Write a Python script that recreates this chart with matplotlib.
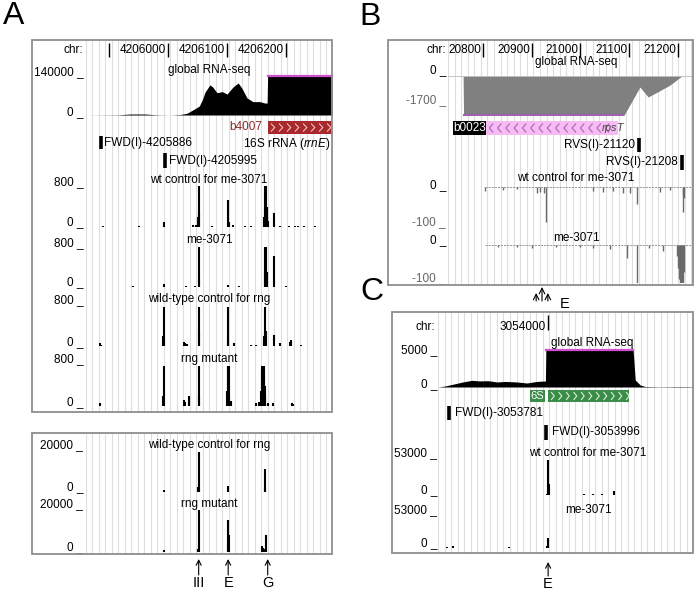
import matplotlib
matplotlib.use('Agg')
import matplotlib.pyplot as plt
from matplotlib.patches import Rectangle
import numpy as np

plt.rcParams['font.family'] = ['Liberation Sans', 'DejaVu Sans']
plt.rcParams['mathtext.fontset'] = 'custom'
plt.rcParams['mathtext.it'] = 'Liberation Sans:italic'
plt.rcParams['mathtext.rm'] = 'Liberation Sans'

# ---------------- DATA ----------------
# Panel A (chr 4205861-4206278)
A_chr_ticks = [4205900, 4206000, 4206100, 4206200]
A_chr_labels = ['', '4206000', '4206100', '4206200']
A_global_pos = [4205861, 4205915, 4205936, 4205961, 4205981, 4206003, 4206020, 4206032, 4206042,
                4206053, 4206058, 4206063, 4206071, 4206076, 4206083, 4206092, 4206100, 4206110,
                4206119, 4206125, 4206134, 4206144, 4206156, 4206164, 4206168, 4206169, 4206278]
A_global_val = [0, 800, 3500, 3500, 800, 0, 1500, 6100, 18000, 32000, 54000, 83000, 108000, 100000,
                80000, 84000, 75000, 100000, 115000, 97000, 61000, 48000, 48000, 43000, 43000,
                150000, 150000]
A_probes = [4205886, 4205995]
A_probe_labels = ['FWD(I)-4205886', 'FWD(I)-4205995']
A_gene = (4206169, 4206278)

A_wt_me_pos = [4205890, 4205920, 4205950, 4205993, 4206010, 4206043, 4206047, 4206051, 4206052, 4206053,
               4206075, 4206102, 4206103, 4206110, 4206130, 4206140, 4206163, 4206164, 4206165,
               4206166, 4206167, 4206168, 4206169, 4206180, 4206190, 4206205, 4206215, 4206220, 4206230, 4206250]
A_wt_me_val = [10, 8, 10, 90, 8, 30, 40, 200, 850, 300, 12, 520, 100, 30, 10, 15, 200, 350, 900,
               900, 400, 250, 120, 280, 15, 12, 20, 25, 15, 10]
A_me_pos = [4205900, 4205940, 4205993, 4206030, 4206045, 4206052, 4206053, 4206080, 4206102, 4206120,
            4206164, 4206165, 4206166, 4206167, 4206180, 4206200, 4206240]
A_me_val = [8, 10, 50, 15, 20, 850, 150, 8, 30, 10, 300, 900, 850, 300, 620, 10, 8]
A_wtr_pos = [4205885, 4205886, 4205920, 4205960, 4205992, 4205993, 4205994, 4206027, 4206029, 4206033,
             4206052, 4206053, 4206101, 4206102, 4206112, 4206140, 4206150, 4206162, 4206163, 4206164,
             4206165, 4206166, 4206180, 4206190, 4206207, 4206209, 4206225, 4206250]
A_wtr_val = [60, 30, 10, 10, 200, 850, 150, 80, 60, 50, 850, 300, 150, 850, 60, 30, 30, 100, 200, 300,
             850, 300, 220, 60, 90, 120, 20, 10]
A_rng_pos = [4205885, 4205920, 4205960, 4205992, 4205993, 4206027, 4206029, 4206036, 4206052, 4206053,
             4206100, 4206101, 4206102, 4206103, 4206104, 4206106, 4206150, 4206155, 4206158, 4206159,
             4206160, 4206161, 4206162, 4206163, 4206164, 4206165, 4206170, 4206178, 4206210, 4206212]
A_rng_val = [60, 10, 10, 200, 850, 120, 90, 200, 850, 200, 300, 850, 850, 850, 200, 100, 60, 80, 300,
             850, 700, 850, 850, 600, 400, 200, 60, 60, 70, 50]
A2_wt_pos = [4205993, 4206051, 4206052, 4206053, 4206102, 4206164, 4206165]
A2_wt_val = [900, 2500, 18500, 1500, 3000, 1800, 10500]
A2_rng_pos = [4205993, 4206051, 4206052, 4206101, 4206102, 4206103, 4206160, 4206161, 4206165, 4206166]
A2_rng_val = [800, 1500, 19500, 4000, 15000, 8000, 2800, 2000, 1500, 8000]
A_sites = [4206052, 4206102, 4206169]
A_site_labels = ['III', 'E', 'G']

# Panel B (chr 20728-21231, minus strand)
B_chr_ticks = [20800, 20900, 21000, 21100, 21200]
B_global_pos = [20759, 20760, 21087, 21122, 21139, 21163, 21184, 21208]
B_global_val = [0, -1800, -1800, -480, -915, -640, -392, 0]
B_gene = (20812, 21078)
B_probes = [21120, 21208]
B_probe_labels = ['RVS(I)-21120', 'RVS(I)-21208']
B_wt_pos = [20804, 20841, 20870, 20911, 20917, 20925, 20929, 21026, 21046, 21067, 21087, 21102,
            21116, 21163, 21184, 21210, 21211, 21212]
B_wt_val = [-10, -8, -5, -15, -12, -15, -92, -10, -12, -10, -15, -15, -45, -12, -8, -20, -65, -30]
B_me_pos = [20830, 20870, 20900, 20950, 21000, 21026, 21060, 21096, 21116, 21140, 21170,
            21198, 21200, 21202, 21204, 21206, 21208, 21210, 21212]
B_me_val = [-5, -5, -8, -6, -5, -8, -10, -35, -110, -8, -15, -30, -60, -90, -110, -110, -110, -100, -70]
B_sites = [20909, 20921, 20933]

# Panel C (chr 3053757-3054322)
C_chr_ticks = [3054000]
C_global_pos = [3053757, 3053773, 3053812, 3053832, 3053850, 3053868, 3053888, 3053906, 3053932,
                3053954, 3053976, 3053990, 3053995, 3053996, 3054189, 3054194, 3054205, 3054216,
                3054249, 3054294, 3054322]
C_global_val = [0, 135, 680, 900, 820, 850, 680, 750, 680, 540, 750, 800, 810, 5300, 5300, 950, 270,
                70, 30, 60, 40]
C_gene = (3054001, 3054180)
C_probes = [3053781, 3053996]
C_probe_labels = ['FWD(I)-3053781', 'FWD(I)-3053996']
C_wt_pos = [3053998, 3054000, 3054001, 3054002, 3054080, 3054100, 3054120, 3054147]
C_wt_val = [2000, 5000, 48000, 15000, 1000, 800, 1500, 5000]
C_me_pos = [3053777, 3053790, 3053915, 3053998, 3054000, 3054001]
C_me_val = [2000, 2500, 800, 3500, 3000, 15000]
C_sites = [3054001]

# ---------------- LAYOUT ----------------
W, H = 696, 591
fig = plt.figure(figsize=(W / 100, H / 100), dpi=100)
bg = fig.add_axes([0, 0, 1, 1])
bg.set_xlim(0, W); bg.set_ylim(H, 0); bg.axis('off')
bg.set_zorder(10); bg.patch.set_alpha(0)

FS = 8.5
GRID = '#dedede'
FRAME = '#8e8e8e'


def px_axes(x0, y0, x1, y1, xlim, ylim, z=2):
    ax = fig.add_axes([x0 / W, 1 - y1 / H, (x1 - x0) / W, (y1 - y0) / H])
    ax.set_xlim(*xlim); ax.set_ylim(*ylim)
    ax.axis('off'); ax.patch.set_alpha(0); ax.set_zorder(z)
    return ax


def T(x, y, s, ha='right', size=FS, color='black', **kw):
    bg.text(x, y, s, ha=ha, va='center', fontsize=size, color=color, **kw)


def frame(x0, y0, x1, y1):
    bg.add_patch(Rectangle((x0, y0), x1 - x0, y1 - y0, fill=False, ec=FRAME, lw=1.3, zorder=5))


def grid(fa, g0, g1, step, y0, y1):
    fa.vlines(np.arange(g0, g1, step), y0, y1, color=GRID, lw=0.8, zorder=0)


def chevrons(fa, g0, g1, y0, y1, step, w, direction, color, lw=0.8):
    xs = np.arange(g0 + step * 0.4, g1 - w * 0.5, step)
    ym = (y0 + y1) / 2
    for x in xs:
        if direction > 0:
            fa.plot([x, x + w, x], [y0, ym, y1], color=color, lw=lw, zorder=4, solid_capstyle='butt')
        else:
            fa.plot([x + w, x, x + w], [y0, ym, y1], color=color, lw=lw, zorder=4, solid_capstyle='butt')


def peaks(ax, pos, val, color='black', lw=1.5):
    ax.vlines(pos, 0, val, color=color, lw=lw)


def baseline(ax, g0, g1, color='#333333'):
    ax.plot([g0, g1], [0, 0], color=color, lw=0.6, dashes=(2.5, 1.2))


def up_arrow(fa, x, ytip, ytail, ms=9):
    fa.annotate('', xy=(x, ytip), xytext=(x, ytail),
                arrowprops=dict(arrowstyle='->', lw=0.8, color='black', mutation_scale=ms,
                                shrinkA=0, shrinkB=0), annotation_clip=False)


# ================= PANEL A =================
gA0, gA1 = 4205861, 4206278
xA0, xA1 = 86, 332
T(14, 16, 'A', ha='center', size=23)
frame(32, 40, 332, 412)
frame(32, 433, 332, 554)
faA = px_axes(xA0, 0, xA1, H, (gA0, gA1), (H, 0), z=1)
grid(faA, gA0, gA1, 11, 40, 412)
grid(faA, gA0, gA1, 11, 433, 554)
T(83, 50, 'chr:')
faA.vlines(A_chr_ticks, 43, 57, color='black', lw=1.0)
for t, lab in zip(A_chr_ticks, A_chr_labels):
    if lab:
        faA.text(t - 3.4, 50, lab, ha='right', va='center', fontsize=FS)

# global RNA-seq
T(209, 70, 'global RNA-seq', ha='center')
T(83, 72, '140000 _'); T(83, 112, '0 _')
axg = px_axes(xA0, 76, xA1, 115, (gA0, gA1), (0, 140000))
axg.fill_between(A_global_pos, 0, A_global_val, color='black', lw=0)
axg.plot([gA0, gA1], [0, 0], color='#444444', lw=0.6)
axg.plot([A_gene[0], gA1], [140000, 140000], color='#d050d0', lw=1.6, clip_on=False)

# gene
faA.add_patch(Rectangle((A_gene[0], 121), A_gene[1] - A_gene[0], 13, color='#a8282c', lw=0, zorder=3))
chevrons(faA, A_gene[0], A_gene[1], 123.5, 131.5, 13.6, 6.5, 1, '#f0c0c0')
faA.text(A_gene[0] - 10, 127, 'b4007', ha='right', va='center', fontsize=FS, color='#8b2a2a')
T(330, 144, r'16S rRNA ($\it{rrnE}$)')
probe_y = [(136, 149, 143), (153, 168, 161)]
for p, lab, (ya, yb, yt) in zip(A_probes, A_probe_labels, probe_y):
    faA.vlines(p, ya, yb, color='black', lw=2.6)
    faA.text(p + 6, yt, lab, ha='left', va='center', fontsize=FS)

# 800-scale tracks
tracksA = [
    ('wt control for me-3071', 186, 227, 180, 182, 222, A_wt_me_pos, A_wt_me_val),
    ('me-3071', 247, 287, 240, 243, 282, A_me_pos, A_me_val),
    ('wild-type control for rng', 307, 346, 299, 300, 342, A_wtr_pos, A_wtr_val),
    ('rng mutant', 366, 406, 359, 359, 402, A_rng_pos, A_rng_val),
]
for title, yt, yb, ytit, ylab_top, ylab_0, pos, val in tracksA:
    ax = px_axes(xA0, yt, xA1, yb, (gA0, gA1), (0, 800))
    baseline(ax, gA0 + 6, gA1)
    peaks(ax, pos, val)
    T(209, ytit, title, ha='center')
    T(83, ylab_top, '800 _'); T(83, ylab_0, '0 _')

tracksA2 = [
    ('wild-type control for rng', 449, 492, 445, 445, 487, A2_wt_pos, A2_wt_val),
    ('rng mutant', 509, 552, 504, 504, 547, A2_rng_pos, A2_rng_val),
]
for title, yt, yb, ytit, ylab_top, ylab_0, pos, val in tracksA2:
    ax = px_axes(xA0, yt, xA1, yb, (gA0, gA1), (0, 20000))
    baseline(ax, gA0 + 6, gA1)
    peaks(ax, pos, val)
    T(209, ytit, title, ha='center')
    T(83, ylab_top, '20000 _'); T(83, ylab_0, '0 _')

for s, lab in zip(A_sites, A_site_labels):
    up_arrow(faA, s, 559, 575)
    faA.text(s, 583, lab, ha='center', va='center', fontsize=10.5)

# ================= PANEL B =================
gB0, gB1 = 20728, 21231
xB0, xB1 = 448, 693
T(370, 17, 'B', ha='center', size=23)
frame(388, 40, 693, 285)
faB = px_axes(xB0, 0, xB1, H, (gB0, gB1), (H, 0), z=1)
grid(faB, gB0, gB1, 13.5, 40, 285)
T(446, 50, 'chr:')
faB.vlines(B_chr_ticks, 43, 57, color='black', lw=1.0)
for t in B_chr_ticks:
    faB.text(t - 4, 50, str(t), ha='right', va='center', fontsize=FS)

T(576, 62, 'global RNA-seq', ha='center')
T(446, 70, '0 _'); T(446, 100, '-1700 _', color='#666666')
axb = px_axes(xB0, 76, xB1, 115, (gB0, gB1), (-1700, 0))
axb.fill_between(B_global_pos, 0, B_global_val, color='#808080', lw=0)
axb.plot([gB0, gB1], [0, 0], color='#bbbbbb', lw=0.6)
axb.plot([B_global_pos[1], B_global_pos[2]], [-1700, -1700], color='#a060b0', lw=1.5, clip_on=False)

# gene rpsT
faB.add_patch(Rectangle((B_gene[0] - 8, 121), B_gene[1] - B_gene[0] + 8, 14, color='#f5bdf2', lw=0, zorder=3))
chevrons(faB, B_gene[0] - 6, B_gene[1] - 14, 123.5, 132.5, 17, 8, -1, '#b25ec0')
bx0 = gB0 + (453 - xB0) / 0.487
faB.add_patch(Rectangle((bx0, 121), (486 - 453) / 0.487, 14, color='black', lw=0, zorder=3))
faB.text(bx0 + (486 - 453) / 0.487 / 2, 128, 'b0023', ha='center', va='center', fontsize=FS,
         color='white', zorder=5)
T(601, 128, r'$\it{rpsT}$', ha='left', size=7.8, color='#444444', zorder=6)
probe_y = [(138, 152, 145), (155, 170, 162)]
for p, lab, (ya, yb, yt) in zip(B_probes, B_probe_labels, probe_y):
    faB.vlines(p, ya, yb, color='black', lw=2.6)
    faB.text(p - 8, yt, lab, ha='right', va='center', fontsize=FS)

tracksB = [
    ('wt control for me-3071', 187, 225, 178, 185, 222, B_wt_pos, B_wt_val),
    ('me-3071', 245, 283, 238, 240, 278, B_me_pos, B_me_val),
]
for title, yt, yb, ytit, ylab_top, ylab_0, pos, val in tracksB:
    ax = px_axes(xB0, yt, xB1, yb, (gB0, gB1), (-100, 0))
    baseline(ax, gB0 + 75, gB1, color='#888888')
    peaks(ax, pos, val, color='#6a6a6a', lw=1.0)
    T(576, ytit, title, ha='center')
    T(446, ylab_top, '0 _'); T(446, ylab_0, '-100 _', color='#666666')

for s, tip in zip(B_sites, [293, 287, 293]):
    up_arrow(faB, s, tip, 301, ms=10)
T(565, 304, 'E', ha='center', size=10.5)

# ================= PANEL C =================
gC0, gC1 = 3053757, 3054322
xC0, xC1 = 438, 693
T(372, 292, 'C', ha='center', size=23)
frame(392, 312, 693, 553)
faC = px_axes(xC0, 0, xC1, H, (gC0, gC1), (H, 0), z=1)
grid(faC, gC0, gC1, 14.5, 312, 553)
T(435, 327, 'chr:')
faC.vlines(C_chr_ticks, 315, 330, color='black', lw=1.0)
for t in C_chr_ticks:
    faC.text(t - 5, 327, str(t), ha='right', va='center', fontsize=FS)

T(592, 343, 'global RNA-seq', ha='center')
T(437, 350, '5000 _'); T(437, 384, '0 _')
axc = px_axes(xC0, 350, xC1, 387, (gC0, gC1), (0, 5000))
axc.fill_between(C_global_pos, 0, C_global_val, color='black', lw=0)
axc.plot([gC0, gC1], [0, 0], color='#444444', lw=0.6)
axc.plot([C_global_pos[13], C_global_pos[14]], [5000, 5000], color='#d050d0', lw=1.6, clip_on=False)

# gene 6S
faC.add_patch(Rectangle((C_gene[0], 390), C_gene[1] - C_gene[0], 12, color='#3a8c48', lw=0, zorder=3))
chevrons(faC, C_gene[0], C_gene[1], 392, 400, 16.6, 7, 1, '#d8f0d8')
lx0 = gC0 + (530 - xC0) / 0.451
faC.add_patch(Rectangle((lx0, 390), (545 - 530) / 0.451, 12, color='#3a8c48', lw=0, zorder=3))
faC.text(lx0 + (545 - 530) / 0.451 / 2, 396, '6S', ha='center', va='center', fontsize=8,
         color='white', zorder=5)
probe_y = [(406, 420, 413), (425, 440, 432)]
for p, lab, (ya, yb, yt) in zip(C_probes, C_probe_labels, probe_y):
    faC.vlines(p, ya, yb, color='black', lw=2.6)
    faC.text(p + 13, yt, lab, ha='left', va='center', fontsize=FS)

tracksC = [
    ('wt control for me-3071', 456, 495, 453, 453, 490, C_wt_pos, C_wt_val),
    ('me-3071', 513, 548, 510, 510, 543, C_me_pos, C_me_val),
]
for title, yt, yb, ytit, ylab_top, ylab_0, pos, val in tracksC:
    ax = px_axes(xC0, yt, xC1, yb, (gC0, gC1), (0, 53000))
    ax.plot([gC0 + 4, 3054160], [0, 0], color='#333333', lw=0.7)
    ax.plot([3054165, gC1], [0, 0], color='#888888', lw=0.6, dashes=(1.5, 3))
    peaks(ax, pos, val)
    T(588, ytit, title, ha='center')
    T(437, ylab_top, '53000 _'); T(437, ylab_0, '0 _')

for s in C_sites:
    up_arrow(faC, s, 562, 576)
    faC.text(s, 584, 'E', ha='center', va='center', fontsize=10.5)

fig.savefig('out.png', dpi=100)
